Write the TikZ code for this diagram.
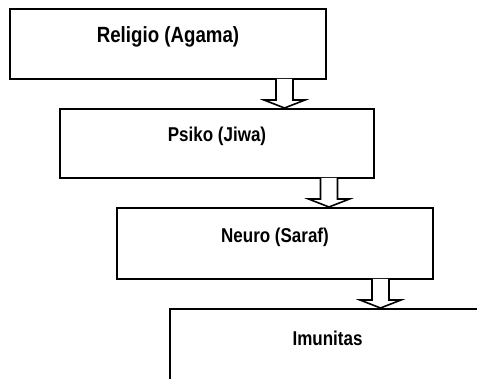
\documentclass[tikz,border=0pt]{standalone}
\usepackage{fontspec}
\usetikzlibrary{calc}
\newfontfamily\lblfont{Liberation Sans}[FakeStretch=0.85]
% hollow block arrow pointing down from one box to the next
% #1 upper box, #2 lower box, #3 horizontal offset from the upper box's south anchor
\newcommand\blockdown[3]{%
  \draw[harrow] let \p1=($(#1.south)+(#3,0)$), \p2=(#2.north) in
    (\x1-8.5pt,\y1) -- (\x1-8.5pt,\y2+9pt) -- (\x1-20.5pt,\y2+9pt) --
    (\x1,\y2+1pt) -- (\x1+20.5pt,\y2+9pt) -- (\x1+8.5pt,\y2+9pt) -- (\x1+8.5pt,\y1);}
\begin{document}
\begin{tikzpicture}[x=1pt,y=1pt,
  box/.style={draw=black, line width=2pt, fill=white, minimum width=316pt,
    minimum height=70pt, inner sep=0pt, outer sep=0pt},
  lbl/.style={font=\lblfont\bfseries\fontsize{20}{24}\selectfont, inner sep=0pt},
  harrow/.style={draw=black, line width=1.6pt, fill=white, line join=miter}]
\useasboundingbox (0,0) rectangle (477,378);
\clip (0,0) rectangle (477,378);
% boxes
\node[box] (rel) at (168,334) {};
\node[box, minimum width=314pt, minimum height=69pt] (psi) at (217,234.5) {};
\node[box, minimum height=71pt] (neu) at (275,134.5) {};
\node[box, minimum width=315pt, minimum height=140pt, anchor=north] (imu) at (327.5,69) {};
% labels
\node[lbl, font=\lblfont\bfseries\fontsize{22}{26}\selectfont, anchor=base] (relt)
  at ($(rel.north)+(0,-34)$) {Religio (Agama)};
\node[lbl, anchor=base] (psit) at ($(psi.north)+(0,-33)$) {Psiko (Jiwa)};
\node[lbl, anchor=base] (neut) at ($(neu.north)+(0,-35)$) {Neuro (Saraf)};
\node[lbl, anchor=base] (imut) at ($(imu.north)+(0,-36)$) {Imunitas};
% arrows
\blockdown{rel}{psi}{116.5}
\blockdown{psi}{neu}{112}
\blockdown{neu}{imu}{105.5}
\end{tikzpicture}
\end{document}
